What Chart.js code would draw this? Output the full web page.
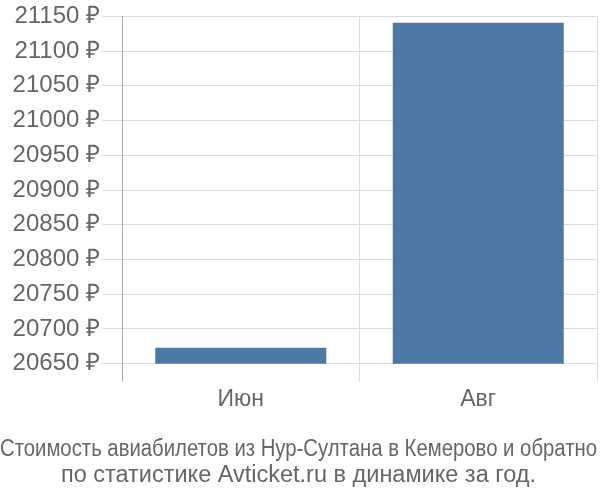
<!DOCTYPE html>
<html>
<head>
<meta charset="utf-8">
<script src="https://cdn.jsdelivr.net/npm/chart.js@4"></script>
<style>
html, body { margin: 0; padding: 0; background: #fff; }
#wrap { width: 600px; height: 500px; }
</style>
</head>
<body>
<div id="wrap"><canvas id="bar-chart"></canvas></div>
<script>
var mesi = ['Июн', 'Авг'];
var prezzi = [20673, 21141];
var titolo = ['Стоимость авиабилетов из Нур-Султана в Кемерово и обратно', 'по статистике Avticket.ru в динамике за год.'];

Chart.defaults.font.family = '"Liberation Sans", Arial, sans-serif';
Chart.defaults.color = '#666';

// grafico a barre
var ctx = document.getElementById('bar-chart');
var chart = new Chart(ctx, {
    type: 'bar',
    data: {
        labels: mesi,
        datasets: [{
            label: 'Цена',
            backgroundColor: 'rgb(76, 120, 166)',
            borderWidth: 0,
            data: prezzi
        }]
    },
    options: {
        responsive: true,
        maintainAspectRatio: false,
        animation: false,
        layout: { padding: { left: 0, right: 3, top: 4 } },
        plugins: {
            legend: { display: false },
            tooltip: { enabled: false },
            title: {
                display: true,
                position: 'bottom',
                text: titolo,
                color: '#666',
                font: { size: 23.5, weight: 'normal', lineHeight: 1.1 },
                padding: { top: 19, bottom: 12 }
            }
        },
        scales: {
            x: {
                grid: {
                    offset: true,
                    color: function (c) { return c.index === 0 ? '#aaa' : '#ddd'; },
                    tickLength: 18
                },
                border: { color: '#ddd' },
                ticks: { font: { size: 23 }, color: '#666', padding: 4 }
            },
            y: {
                min: 20650,
                max: 21150,
                afterFit: function (s) { s.width = 122; },
                grid: { color: '#ddd', tickLength: 20 },
                border: { color: '#aaa' },
                ticks: {
                    stepSize: 50,
                    font: { size: 24 },
                    color: '#666',
                    padding: 2,
                    callback: function (v) { return v + ' ₽'; }
                }
            }
        }
    }
});
</script>
</body>
</html>
